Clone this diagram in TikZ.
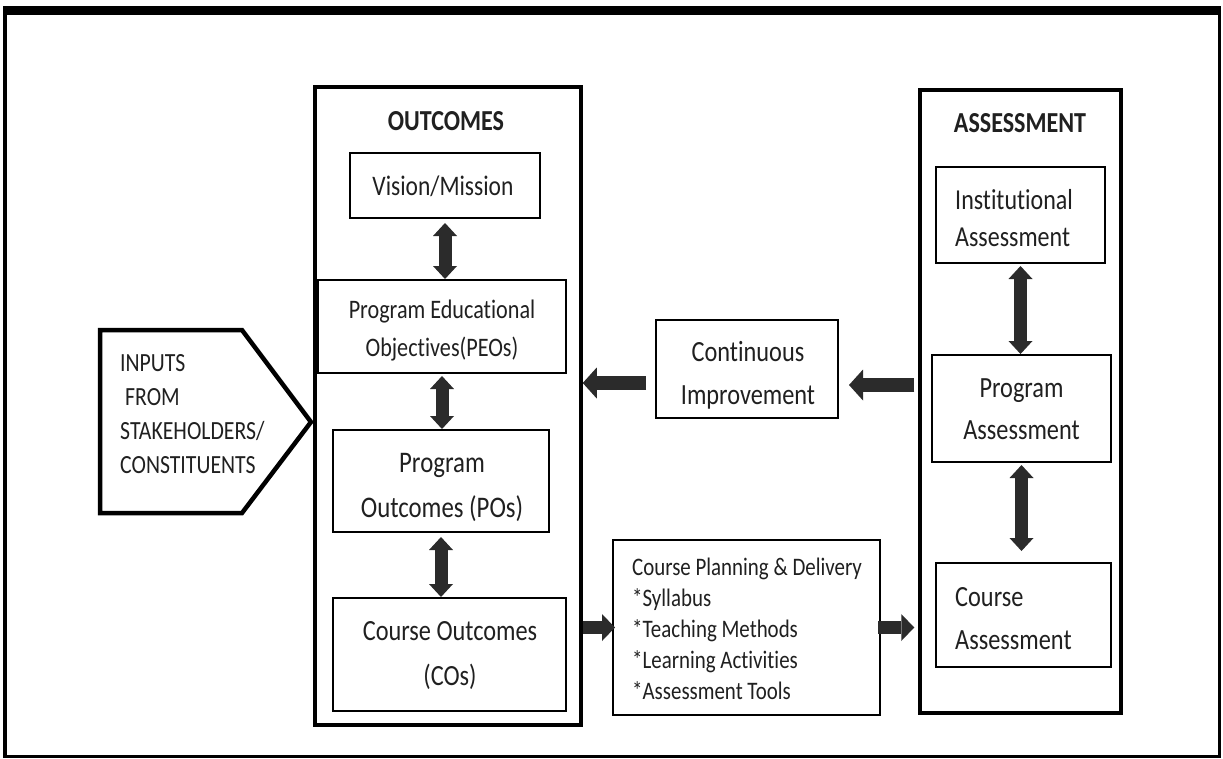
\documentclass[tikz,border=0pt]{standalone}
\usepackage{fontspec}
\setmainfont{Carlito}[FakeStretch=0.83, Ligatures=NoCommon]
\usetikzlibrary{arrows.meta}
\definecolor{ink}{HTML}{202020}
\definecolor{arrowgray}{HTML}{2B2B2B}
\newcommand\fs[2]{\fontsize{#1pt}{#2pt}\selectfont}

\begin{document}
\begin{tikzpicture}[x=1pt,y=-1pt,
  box/.style={draw=black, line width=2pt, inner sep=0pt},
  container/.style={draw=black, line width=3.5pt, inner sep=0pt},
  txt/.style={text=ink, inner sep=0pt, align=center},
  ltxt/.style={text=ink, inner sep=0pt, align=left, anchor=west},
  heading/.style={text=ink, inner sep=0pt, font=\fs{29}{34}\bfseries},
  darrow/.style={line width=13pt, draw=arrowgray, {Triangle[width=24pt,length=13pt,line width=0pt]}-{Triangle[width=24pt,length=13pt,line width=0pt]}},
  bigarrow/.style={line width=14.5pt, draw=arrowgray, -{Triangle[width=31pt,length=14pt,line width=0pt]}},
  smallarrow/.style={line width=13pt, draw=arrowgray, -{Triangle[width=27pt,length=13pt,line width=0pt]}},
]
\useasboundingbox (0,0) rectangle (1223,758);
\fill[white] (0,0) rectangle (1223,758);

% page frame
\fill[black] (3,6) rectangle (1221,15);
\draw[line width=3.5pt] (5,12) -- (5,756.5) -- (1219.5,756.5) -- (1219.5,12);

% input pentagon
\draw[line width=4.5pt, line join=miter] (100,330) -- (242,330) -- (311,422) -- (242,513) -- (100,513) -- cycle;
\node[ltxt, font=\fs{26.2}{34}] (inputs) at (120,414)
  {INPUTS\\\hspace*{5pt}FROM\\STAKEHOLDERS/\\CONSTITUENTS};

% outcomes column
\node[container, minimum width=266pt, minimum height=638pt] (outcomes) at (448,406) {};
\node[heading] (outhead) at (446,121) {OUTCOMES};
\node[box, minimum width=190pt, minimum height=65pt] (vision) at (445,185.5) {};
\node[txt, font=\fs{28.3}{40}] (visiontxt) at (443,186.5) {Vision/Mission};
\node[box, minimum width=248pt, minimum height=93pt] (peo) at (442,326.5) {};
\node[txt, font=\fs{26.7}{38}] (peotxt) at (442,330.5) {Program Educational\\Objectives(PEOs)};
\node[box, minimum width=216pt, minimum height=102pt] (po) at (441,481) {};
\node[txt, font=\fs{29.9}{45}] (potxt) at (442,487) {Program\\Outcomes (POs)};
\node[box, minimum width=233pt, minimum height=113pt] (co) at (449.5,654.5) {};
\node[txt, font=\fs{29.3}{45}] (cotxt) at (450,656) {Course Outcomes\\(COs)};

% middle
\node[box, minimum width=182pt, minimum height=98pt] (ci) at (747,369) {};
\node[txt, font=\fs{29.3}{43}] (citxt) at (748,375) {Continuous\\Improvement};
\node[box, minimum width=267pt, minimum height=175pt] (cp) at (746.5,627.5) {};
\node[ltxt, font=\fs{25.2}{31}] (cptxt) at (632,629)
  {Course Planning \& Delivery\\{*}Syllabus\\{*}Teaching Methods\\{*}Learning Activities\\{*}Assessment Tools};

% assessment column
\node[container, minimum width=201pt, minimum height=623pt] (assess) at (1020.5,401.5) {};
\node[heading] (asshead) at (1020,123) {ASSESSMENT};
\node[box, minimum width=169pt, minimum height=96pt] (inst) at (1020.5,215) {};
\node[ltxt, font=\fs{28.9}{37}] (insttxt) at (955,218) {Institutional\\Assessment};
\node[box, minimum width=179pt, minimum height=107pt] (pa) at (1021.5,408.5) {};
\node[txt, font=\fs{29.3}{42}] (patxt) at (1021.5,409) {Program\\Assessment};
\node[box, minimum width=175pt, minimum height=104pt] (ca) at (1023.5,615) {};
\node[ltxt, font=\fs{29.3}{43}] (catxt) at (955,618.5) {Course\\Assessment};

% two-way links inside the columns
\draw[darrow] ([yshift=-4pt]vision.south) -- (vision.south |- peo.north);
\draw[darrow] ([yshift=-2pt]peo.south) -- (peo.south |- po.north);
\draw[darrow] ([yshift=-4pt]po.south) -- (po.south |- co.north);
\draw[darrow] ([yshift=-2pt]inst.south) -- (inst.south |- pa.north);
\coordinate (caTop) at ([yshift=11pt]ca.north);
\draw[darrow] ([yshift=-2pt]pa.south) -- (pa.south |- caTop);

% feedback and delivery flow
\coordinate (aOut) at ([xshift=-4pt]assess.west);
\coordinate (ciL) at ([xshift=-9pt,yshift=-14pt]ci.west);
\coordinate (ciR) at ([xshift=10pt,yshift=-16pt]ci.east);
\draw[bigarrow] (ciL) -- (ciL -| outcomes.east);
\draw[bigarrow] (ciR -| aOut) -- (ciR);
\draw[smallarrow] (cp.west -| outcomes.east) -- ([xshift=3pt]cp.west);
\draw[smallarrow] ([xshift=-3pt]cp.east) -- (cp.east -| aOut);
\end{tikzpicture}
\end{document}
